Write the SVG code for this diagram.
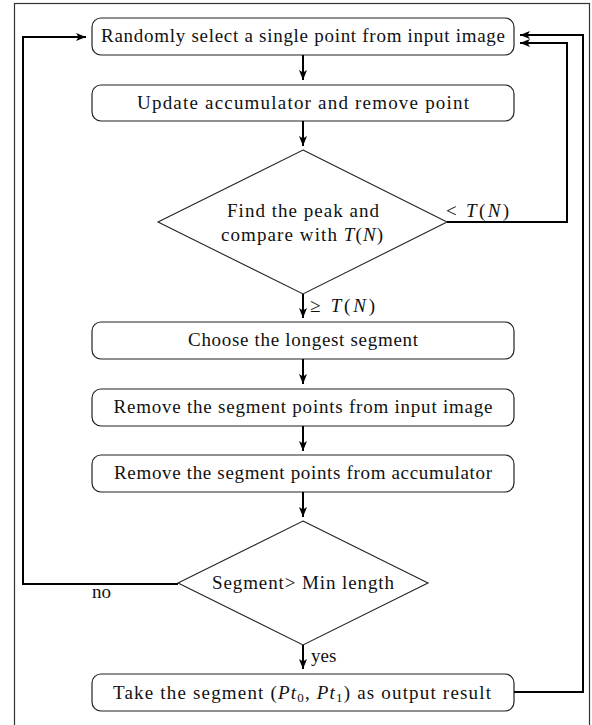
<svg xmlns="http://www.w3.org/2000/svg" width="592" height="725" viewBox="0 0 592 725">
<defs>
<marker id="arr" markerUnits="userSpaceOnUse" markerWidth="12" markerHeight="10" refX="10" refY="4.5" orient="auto">
<path d="M0,0.5 L10,4.5 L0,8.5 L2.5,4.5 Z" fill="#000"/>
</marker>
</defs>
<style>
.box{fill:#fff;stroke:#222;stroke-width:1.2}
.dia{fill:#fff;stroke:#222;stroke-width:1.1}
text{font-family:'Liberation Serif','DejaVu Serif',serif;font-size:19px;fill:#111}
.t{text-anchor:middle}
.m{font-style:italic}
.c{fill:none;stroke:#000;stroke-width:2}
.frame{fill:none;stroke:#333;stroke-width:1.2}
</style>
<rect class="frame" x="14.5" y="3.5" width="575" height="730"/>
<g id="n1">
<rect class="box" x="92" y="18" width="422" height="37" rx="9"/>
<text class="t" x="303" y="42" textLength="404" lengthAdjust="spacing">Randomly select a single point from input image</text>
</g>
<g id="n2">
<rect class="box" x="92" y="85" width="422" height="36" rx="9"/>
<text class="t" x="303" y="109" textLength="332" lengthAdjust="spacing">Update accumulator and remove point</text>
</g>
<g id="d1">
<polygon class="dia" points="303,150 447,222 303,294 158,222"/>
<text class="t" x="303" y="217" textLength="152" lengthAdjust="spacing">Find the peak and</text>
<text class="t" x="302" y="241" textLength="162" lengthAdjust="spacing">compare with <tspan class="m">T</tspan>(<tspan class="m">N</tspan>)</text>
</g>
<g id="n3">
<rect class="box" x="92" y="322" width="422" height="37" rx="9"/>
<text class="t" x="303" y="346" textLength="230" lengthAdjust="spacing">Choose the longest segment</text>
</g>
<g id="n4">
<rect class="box" x="92" y="389" width="422" height="37" rx="9"/>
<text class="t" x="303" y="413" textLength="379" lengthAdjust="spacing">Remove the segment points from input image</text>
</g>
<g id="n5">
<rect class="box" x="92" y="455" width="422" height="37" rx="9"/>
<text class="t" x="303" y="479" textLength="378" lengthAdjust="spacing">Remove the segment points from accumulator</text>
</g>
<g id="d2">
<polygon class="dia" points="303,521 428,583 303,645 178,583"/>
<text class="t" x="303" y="589" textLength="182" lengthAdjust="spacing">Segment&gt; Min length</text>
</g>
<g id="n6">
<rect class="box" x="92" y="674" width="422" height="37" rx="9"/>
<text class="t" x="302" y="699" textLength="378" lengthAdjust="spacing">Take the segment (<tspan class="m">Pt</tspan><tspan font-size="13" dy="3">0</tspan><tspan dy="-3">, </tspan><tspan class="m">Pt</tspan><tspan font-size="13" dy="3">1</tspan><tspan dy="-3">) as output result</tspan></text>
</g>
<g id="connectors">
<line class="c" x1="303" y1="55" x2="303" y2="80" marker-end="url(#arr)"/>
<line class="c" x1="303" y1="121" x2="303" y2="146" marker-end="url(#arr)"/>
<line class="c" x1="303" y1="294" x2="303" y2="318" marker-end="url(#arr)"/>
<line class="c" x1="303" y1="359" x2="303" y2="384" marker-end="url(#arr)"/>
<line class="c" x1="303" y1="426" x2="303" y2="451" marker-end="url(#arr)"/>
<line class="c" x1="303" y1="492" x2="303" y2="517" marker-end="url(#arr)"/>
<line class="c" x1="303" y1="645" x2="303" y2="669" marker-end="url(#arr)"/>
<polyline class="c" points="447,222 567,222 567,43 520,43" marker-end="url(#arr)"/>
<polyline class="c" points="178,584 23,584 23,37 86,37" marker-end="url(#arr)"/>
<polyline class="c" points="514,692 583,692 583,35 520,35" marker-end="url(#arr)"/>
<text x="446" y="217" textLength="63" lengthAdjust="spacing">&lt; <tspan class="m">T</tspan>(<tspan class="m">N</tspan>)</text>
<text x="310" y="312" textLength="65" lengthAdjust="spacing">≥ <tspan class="m">T</tspan>(<tspan class="m">N</tspan>)</text>
<text x="92" y="598">no</text>
<text x="311" y="662">yes</text>
</g>
</svg>
